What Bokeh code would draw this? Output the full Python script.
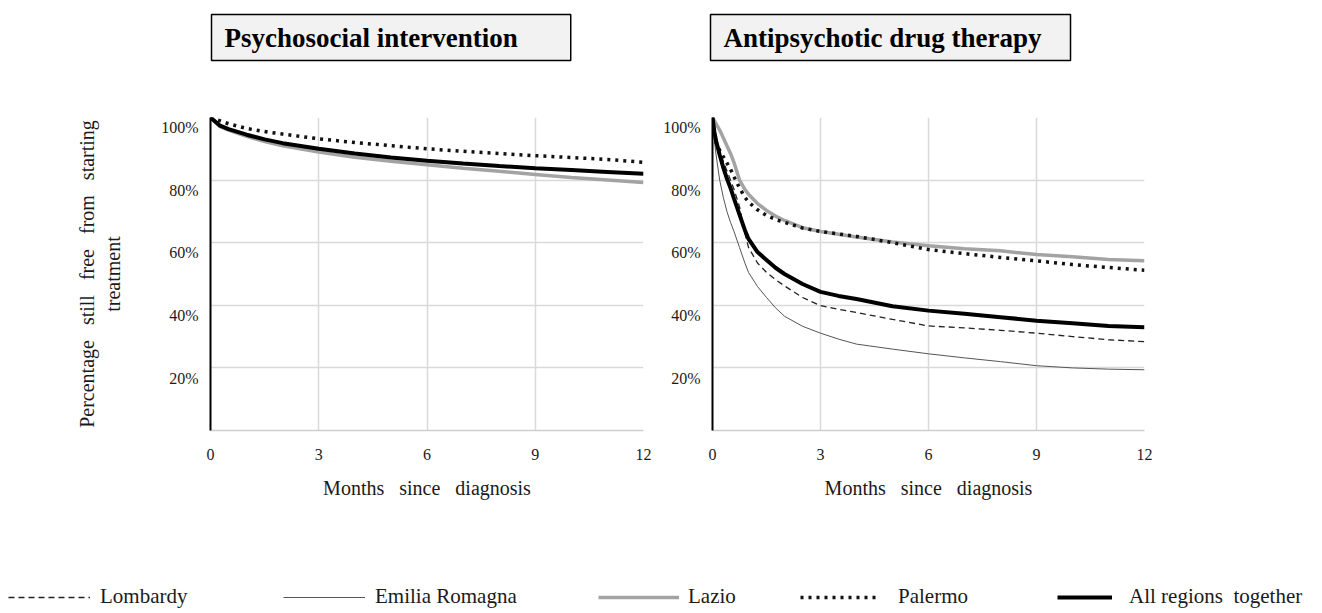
from bokeh.plotting import figure
from bokeh.layouts import column, row
from bokeh.models import (Range1d, FixedTicker, CustomJSTickFormatter, Label,
                          Legend, LegendItem)
from bokeh.embed import file_html
from bokeh.resources import INLINE

# ---------------- data ----------------
series_names = ["Lombardy", "Emilia Romagna", "Lazio", "Palermo", "All regions\u2002together"]
panel_titles = ["Psychosocial intervention", "Antipsychotic drug therapy"]
x_ticks = [0, 3, 6, 9, 12]
y_ticks = [0.2, 0.4, 0.6, 0.8, 1.0]
x_label = "Months\u2002 since\u2002 diagnosis"
y_label = "Percentage\u2002 still\u2002 free\u2002 from\u2002 starting\ntreatment"

psy_months = [0, 0.25, 0.5, 1, 1.5, 2, 3, 4, 5, 6, 7, 8, 9, 10, 11, 12]
psy_lombardy = [1.0, 0.977, 0.965, 0.947, 0.932, 0.920, 0.902, 0.887, 0.874, 0.864, 0.855, 0.847, 0.840, 0.834, 0.828, 0.822]
psy_emilia = [1.0, 0.974, 0.962, 0.943, 0.928, 0.916, 0.898, 0.883, 0.870, 0.860, 0.851, 0.843, 0.836, 0.830, 0.824, 0.818]
psy_lazio = [1.0, 0.972, 0.960, 0.940, 0.923, 0.910, 0.890, 0.873, 0.860, 0.849, 0.838, 0.828, 0.818, 0.808, 0.800, 0.792]
psy_palermo = [1.0, 0.990, 0.980, 0.965, 0.955, 0.947, 0.932, 0.920, 0.910, 0.900, 0.892, 0.885, 0.878, 0.872, 0.866, 0.857]
psy_all = [1.0, 0.975, 0.963, 0.945, 0.930, 0.918, 0.900, 0.885, 0.872, 0.862, 0.853, 0.845, 0.838, 0.832, 0.826, 0.820]

drug_months = [0, 0.05, 0.1, 0.2, 0.3, 0.4, 0.5, 0.6, 0.75, 0.9, 1, 1.25, 1.5, 1.75, 2, 2.5, 3, 3.5, 4, 5, 6, 7, 8, 9, 10, 11, 12]
drug_lombardy = [1.0, 0.965, 0.935, 0.895, 0.86, 0.83, 0.80, 0.77, 0.715, 0.63, 0.585, 0.535, 0.505, 0.482, 0.462, 0.425, 0.399, 0.387, 0.377, 0.355, 0.334, 0.328, 0.320, 0.311, 0.300, 0.290, 0.284]
drug_emilia = [1.0, 0.93, 0.88, 0.80, 0.745, 0.70, 0.665, 0.635, 0.585, 0.535, 0.505, 0.46, 0.425, 0.392, 0.365, 0.333, 0.311, 0.292, 0.276, 0.260, 0.245, 0.232, 0.220, 0.207, 0.200, 0.196, 0.194]
drug_lazio = [1.0, 0.99, 0.98, 0.96, 0.935, 0.91, 0.885, 0.855, 0.80, 0.77, 0.755, 0.725, 0.703, 0.685, 0.671, 0.648, 0.636, 0.627, 0.618, 0.602, 0.590, 0.581, 0.574, 0.562, 0.555, 0.546, 0.542]
drug_palermo = [1.0, 0.94, 0.92, 0.895, 0.875, 0.855, 0.835, 0.81, 0.775, 0.745, 0.73, 0.705, 0.687, 0.674, 0.665, 0.647, 0.636, 0.628, 0.620, 0.600, 0.578, 0.565, 0.553, 0.542, 0.530, 0.521, 0.512]
drug_all = [1.0, 0.955, 0.925, 0.88, 0.84, 0.805, 0.775, 0.74, 0.69, 0.64, 0.612, 0.57, 0.545, 0.52, 0.50, 0.468, 0.443, 0.43, 0.420, 0.397, 0.383, 0.373, 0.362, 0.351, 0.343, 0.334, 0.330]

psy_series = [psy_lombardy, psy_emilia, psy_lazio, psy_palermo, psy_all]
drug_series = [drug_lombardy, drug_emilia, drug_lazio, drug_palermo, drug_all]

# ---------------- styles ----------------
FONT = "Liberation Serif"
styles = [
    dict(line_color="#222222", line_width=1.3, line_dash="6 4"),
    dict(line_color="#555555", line_width=1.0),
    dict(line_color="#a3a3a3", line_width=3.5),
    dict(line_color="#111111", line_width=3.5, line_dash="3 5"),
    dict(line_color="#000000", line_width=4.0),
]
draw_order = [2, 1, 0, 3, 4]
GRID = "#d9d9d9"
STRIP_H = 74
FIG_H = 446
FRAME_TOP = 43
FRAME_H = 313


def make_panel(months, series, width, border_left, frame_w, with_ylabel):
    p = figure(width=width, height=FIG_H, x_range=Range1d(0, 12), y_range=Range1d(0, 1),
               output_backend="svg", toolbar_location=None,
               min_border_left=border_left, min_border_right=width - border_left - frame_w,
               min_border_top=FRAME_TOP, min_border_bottom=FIG_H - FRAME_TOP - FRAME_H)
    p.outline_line_color = None
    p.background_fill_color = "white"
    p.border_fill_color = "white"

    p.xaxis.ticker = FixedTicker(ticks=x_ticks)
    p.yaxis.ticker = FixedTicker(ticks=y_ticks)
    # labels sit just below their grid line, as in the original
    p.yaxis.formatter = CustomJSTickFormatter(code='return "\\n" + Math.round(tick * 100) + "%"')
    p.axis.major_tick_line_color = None
    p.axis.minor_tick_line_color = None
    p.axis.major_tick_out = 0
    p.axis.major_tick_in = 0
    p.axis.major_label_text_font = FONT
    p.axis.major_label_text_font_size = "16px"
    p.axis.major_label_text_color = "#1a1a1a"
    p.yaxis.major_label_standoff = 12
    p.xaxis.major_label_standoff = 18
    p.yaxis.axis_line_color = "#000000"
    p.yaxis.axis_line_width = 2
    p.xaxis.axis_line_color = "#cfcfcf"
    p.xaxis.axis_line_width = 1.5

    p.xaxis.axis_label = x_label
    p.xaxis.axis_label_text_font = FONT
    p.xaxis.axis_label_text_font_style = "normal"
    p.xaxis.axis_label_text_font_size = "20px"
    p.xaxis.axis_label_text_color = "#1a1a1a"
    p.xaxis.axis_label_standoff = 14
    if with_ylabel:
        p.yaxis.axis_label = y_label
        p.yaxis.axis_label_text_font = FONT
        p.yaxis.axis_label_text_font_style = "normal"
        p.yaxis.axis_label_text_font_size = "20px"
        p.yaxis.axis_label_text_color = "#1a1a1a"
        p.yaxis.axis_label_standoff = 34

    p.xgrid.grid_line_color = GRID
    p.ygrid.grid_line_color = GRID
    p.xgrid.grid_line_width = 1.5
    p.ygrid.grid_line_width = 1.5

    for i in draw_order:
        p.line(months, series[i], **styles[i])
    return p


left = make_panel(psy_months, psy_series, 660, 210, 433, True)
right = make_panel(drug_months, drug_series, 662, 50, 434, False)

# ---------------- title strip ----------------
top = figure(width=1322, height=STRIP_H, x_range=Range1d(0, 1), y_range=Range1d(0, 1),
             output_backend="svg", toolbar_location=None,
             x_axis_location=None, y_axis_location=None, min_border=0)
top.outline_line_color = None
top.grid.visible = False
title_x = [211, 710]
title_pad_right = [53, 29]
for tx, tt, pr in zip(title_x, panel_titles, title_pad_right):
    pad = (13, pr, 8, 8)  # left, right, top, bottom
    # soft shadow
    top.add_layout(Label(x=tx + 4, y=STRIP_H / 2 + 3, x_units="screen", y_units="screen",
                         text=tt, text_font=FONT, text_font_style="bold",
                         text_font_size="27px", text_baseline="middle", text_alpha=0.0,
                         background_fill_color="#b0b0b0", background_fill_alpha=0.6,
                         padding=pad))
    top.add_layout(Label(x=tx, y=STRIP_H / 2, x_units="screen", y_units="screen",
                         text=tt, text_font=FONT, text_font_style="bold",
                         text_font_size="27px", text_baseline="middle", text_color="#000000",
                         background_fill_color="#f2f2f2", background_fill_alpha=1.0,
                         border_line_color="#000000", border_line_width=1.5,
                         padding=pad))

# ---------------- legend strip ----------------
# the strip's y range lies far above the data, so its line renderers stay out of view
leg = figure(width=1322, height=93, x_range=Range1d(0, 12), y_range=Range1d(50, 60),
             output_backend="svg", toolbar_location=None,
             x_axis_location=None, y_axis_location=None, min_border=0)
leg.outline_line_color = None
leg.grid.visible = False

leg_x = [8, 283, 598, 800, 1057]
leg_glyph_w = [82, 82, 81, 78, 55]
leg_standoff = [10, 10, 9, 20, 17]
for i, name in enumerate(series_names):
    r = leg.line(drug_months, drug_series[i], **styles[i])
    lg = Legend(items=[LegendItem(label=name, renderers=[r])], location=(leg_x[i], 4),
                glyph_width=leg_glyph_w[i], glyph_height=20, label_height=20,
                label_standoff=leg_standoff[i], padding=0, margin=0, spacing=0,
                border_line_alpha=0, background_fill_alpha=0,
                label_text_font=FONT, label_text_font_size="21px",
                label_text_color="#1a1a1a")
    leg.add_layout(lg)

layout = column(top, row(left, right), leg)
open("out.html", "w").write(file_html(layout, INLINE))
